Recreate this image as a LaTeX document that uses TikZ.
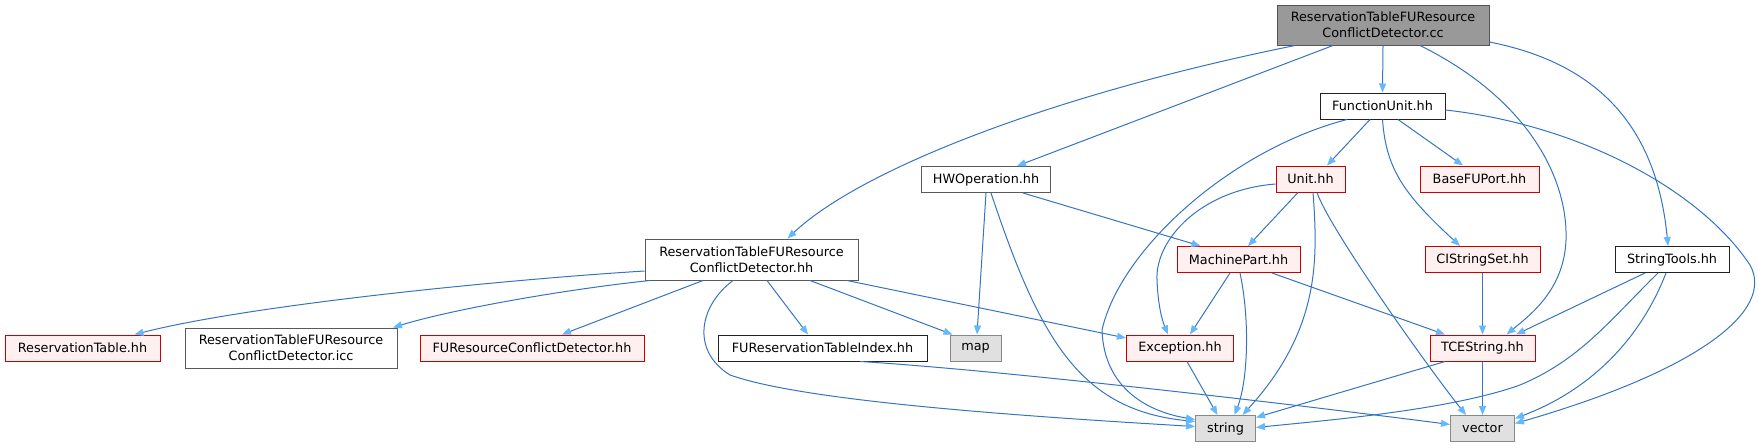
\documentclass[tikz,border=0pt]{standalone}
\usepackage{fontspec}
\setmainfont{DejaVu Sans}
\usetikzlibrary{arrows.meta}
\definecolor{rootfill}{HTML}{999999}
\definecolor{rootborder}{HTML}{555555}
\definecolor{docborder}{HTML}{222222}
\definecolor{undocborder}{HTML}{5A5A5A}
\definecolor{redfill}{HTML}{FFF0F0}
\definecolor{redborder}{HTML}{CC0000}
\definecolor{sysfill}{HTML}{E0E0E0}
\definecolor{sysborder}{HTML}{888888}
\definecolor{edgec}{HTML}{3574C0}
\definecolor{arrowc}{HTML}{63B8FF}
\begin{document}
\begin{tikzpicture}[x=1pt,y=-1pt,
  box/.style={draw, rectangle, inner sep=0pt, line width=1pt, align=center,
    font=\fontsize{12.8}{15.6}\selectfont},
  rootn/.style={box, fill=rootfill, draw=rootborder},
  docn/.style={box, fill=white, draw=docborder},
  undocn/.style={box, fill=white, draw=undocborder},
  redn/.style={box, fill=redfill, draw=redborder},
  sysn/.style={box, fill=sysfill, draw=sysborder},
  edge/.style={draw=edgec, line width=1pt, -{Triangle[length=9pt,width=7pt,color=arrowc]}}]
\useasboundingbox (0,0) rectangle (1758,447);
% nodes
\node[rootn, minimum width=212pt, minimum height=40pt] (root) at (1383,25) {ReservationTableFUResource\\ConflictDetector.cc};
\node[docn, minimum width=125pt, minimum height=26pt] (fu) at (1382.5,106) {FunctionUnit.hh};
\node[undocn, minimum width=129pt, minimum height=26pt] (hw) at (986,179.5) {HWOperation.hh};
\node[redn, minimum width=69pt, minimum height=26pt] (unit) at (1310.5,179) {Unit.hh};
\node[redn, minimum width=119pt, minimum height=26pt] (basefu) at (1479.5,179) {BaseFUPort.hh};
\node[undocn, minimum width=213pt, minimum height=41pt] (rtcdhh) at (751.5,259.5) {ReservationTableFUResource\\ConflictDetector.hh};
\node[redn, minimum width=123pt, minimum height=26pt] (machine) at (1238.5,259.5) {MachinePart.hh};
\node[redn, minimum width=115pt, minimum height=26pt] (cistr) at (1482.5,259.5) {CIStringSet.hh};
\node[docn, minimum width=114pt, minimum height=26pt] (strtools) at (1672,259.5) {StringTools.hh};
\node[redn, minimum width=155pt, minimum height=26pt] (rt) at (82.5,348) {ReservationTable.hh};
\node[undocn, minimum width=212pt, minimum height=40pt] (icc) at (291,348) {ReservationTableFUResource\\ConflictDetector.icc};
\node[redn, minimum width=224pt, minimum height=26pt] (furcd) at (532,348) {FUResourceConflictDetector.hh};
\node[docn, minimum width=209pt, minimum height=26pt] (furti) at (822.5,348) {FUReservationTableIndex.hh};
\node[sysn, minimum width=51pt, minimum height=26pt] (map) at (975.5,348) {map};
\node[redn, minimum width=107pt, minimum height=26pt] (exc) at (1180,348) {Exception.hh};
\node[redn, minimum width=105pt, minimum height=26pt] (tce) at (1482.5,348) {TCEString.hh};
\node[sysn, minimum width=60pt, minimum height=26pt] (string) at (1225.5,428.5) {string};
\node[sysn, minimum width=64pt, minimum height=26pt] (vector) at (1482.5,428.5) {vector};
% edges from root
\draw[edge] ([xshift=-88pt]root.south) .. controls (1050,95) and (860,170) .. ([xshift=36pt]rtcdhh.north);
\draw[edge] ([xshift=-50pt]root.south) -- ([xshift=31pt]hw.north);
\draw[edge] (root.south) -- (fu.north);
\draw[edge] ([xshift=37pt]root.south) .. controls (1530,100) and (1568,180) .. (1566,240) .. controls (1564,290) and (1530,315) .. ([xshift=24pt]tce.north);
\draw[edge] ([yshift=-17pt]root.east) .. controls (1580,60) and (1655,110) .. ([xshift=-4pt]strtools.north);
% edges from FunctionUnit
\draw[edge] ([xshift=-12.5pt]fu.south) -- ([xshift=16.5pt]unit.north);
\draw[edge] ([xshift=15.5pt]fu.south) -- ([xshift=-16.5pt]basefu.north);
\draw[edge] (fu.south) .. controls (1386,170) and (1405,195) .. ([xshift=-22.5pt]cistr.north);
\draw[edge] ([xshift=-35.5pt]fu.south) .. controls (1230,150) and (1120,250) .. (1102,330) .. controls (1104,390) and (1150,412) .. ([yshift=9pt]string.west);
\draw[edge] ([yshift=-4pt]fu.east) .. controls (1580,125) and (1700,190) .. (1750,265) .. controls (1775,310) and (1700,370) .. ([yshift=5pt]vector.east);
% edges from HWOperation
\draw[edge] (hw.south) -- ([xshift=1.5pt]map.north);
\draw[edge] ([xshift=5pt]hw.south) .. controls (1040,340) and (1080,410) .. ([yshift=7pt]string.west);
\draw[edge] ([xshift=37pt]hw.south) -- ([xshift=-38pt]machine.north);
% edges from ReservationTableFUResourceConflictDetector.hh
\draw[edge] ([yshift=-11.5pt]rtcdhh.west) .. controls (500,280) and (250,305) .. ([xshift=52pt]rt.north);
\draw[edge] ([xshift=-101.5pt]rtcdhh.south) .. controls (560,290) and (450,310) .. ([xshift=102pt]icc.north);
\draw[edge] ([xshift=-48.5pt]rtcdhh.south) -- ([xshift=30pt]furcd.north);
\draw[edge] ([xshift=-18.5pt]rtcdhh.south) .. controls (700,305) and (690,350) .. (730,375) .. controls (800,400) and (1000,415) .. ([yshift=2pt]string.west);
\draw[edge] ([xshift=15.5pt]rtcdhh.south) -- ([xshift=-14.5pt]furti.north);
\draw[edge] ([xshift=58.5pt]rtcdhh.south) -- ([xshift=3pt]map.north west);
\draw[edge] ([xshift=95.5pt]rtcdhh.south) -- ([yshift=10pt]exc.west);
% FUReservationTableIndex
\draw[edge] ([xshift=37.5pt]furti.south) .. controls (1000,370) and (1300,405) .. ([yshift=4pt]vector.west);
% Unit.hh
\draw[edge] ([xshift=-12.5pt]unit.south) -- ([xshift=9.5pt]machine.north);
\draw[edge] ([yshift=-5pt]unit.west) .. controls (1200,190) and (1155,240) .. (1157,280) .. controls (1158,305) and (1162,320) .. ([xshift=-12pt]exc.north);
\draw[edge] ([xshift=2.5pt]unit.south) .. controls (1318,260) and (1320,330) .. ([xshift=17pt]string.north);
\draw[edge] ([xshift=6.5pt]unit.south) .. controls (1330,230) and (1430,370) .. ([xshift=-16.5pt]vector.north);
% MachinePart.hh
\draw[edge] ([xshift=-8.5pt]machine.south) -- ([xshift=10pt]exc.north);
\draw[edge] ([xshift=1.5pt]machine.south) .. controls (1250,320) and (1248,380) .. ([xshift=9pt]string.north);
\draw[edge] ([xshift=33.5pt]machine.south) -- ([xshift=-37.5pt]tce.north);
% Exception.hh
\draw[edge] ([xshift=7pt]exc.south) -- ([xshift=-8pt]string.north);
% CIStringSet.hh
\draw[edge] (cistr.south) -- (tce.north);
% TCEString.hh
\draw[edge] ([xshift=-37.5pt]tce.south) -- ([yshift=11pt]string.east);
\draw[edge] (tce.south) -- (vector.north);
% StringTools.hh
\draw[edge] ([xshift=-27pt]strtools.south) -- ([xshift=33.5pt]tce.north);
\draw[edge] ([xshift=-14pt]strtools.south) .. controls (1610,320) and (1580,360) .. (1520,385) .. controls (1450,410) and (1330,420) .. ([yshift=1pt]string.east);
\draw[edge] ([xshift=-6pt]strtools.south) .. controls (1640,340) and (1590,390) .. ([yshift=10pt]vector.east);
\end{tikzpicture}
\end{document}
